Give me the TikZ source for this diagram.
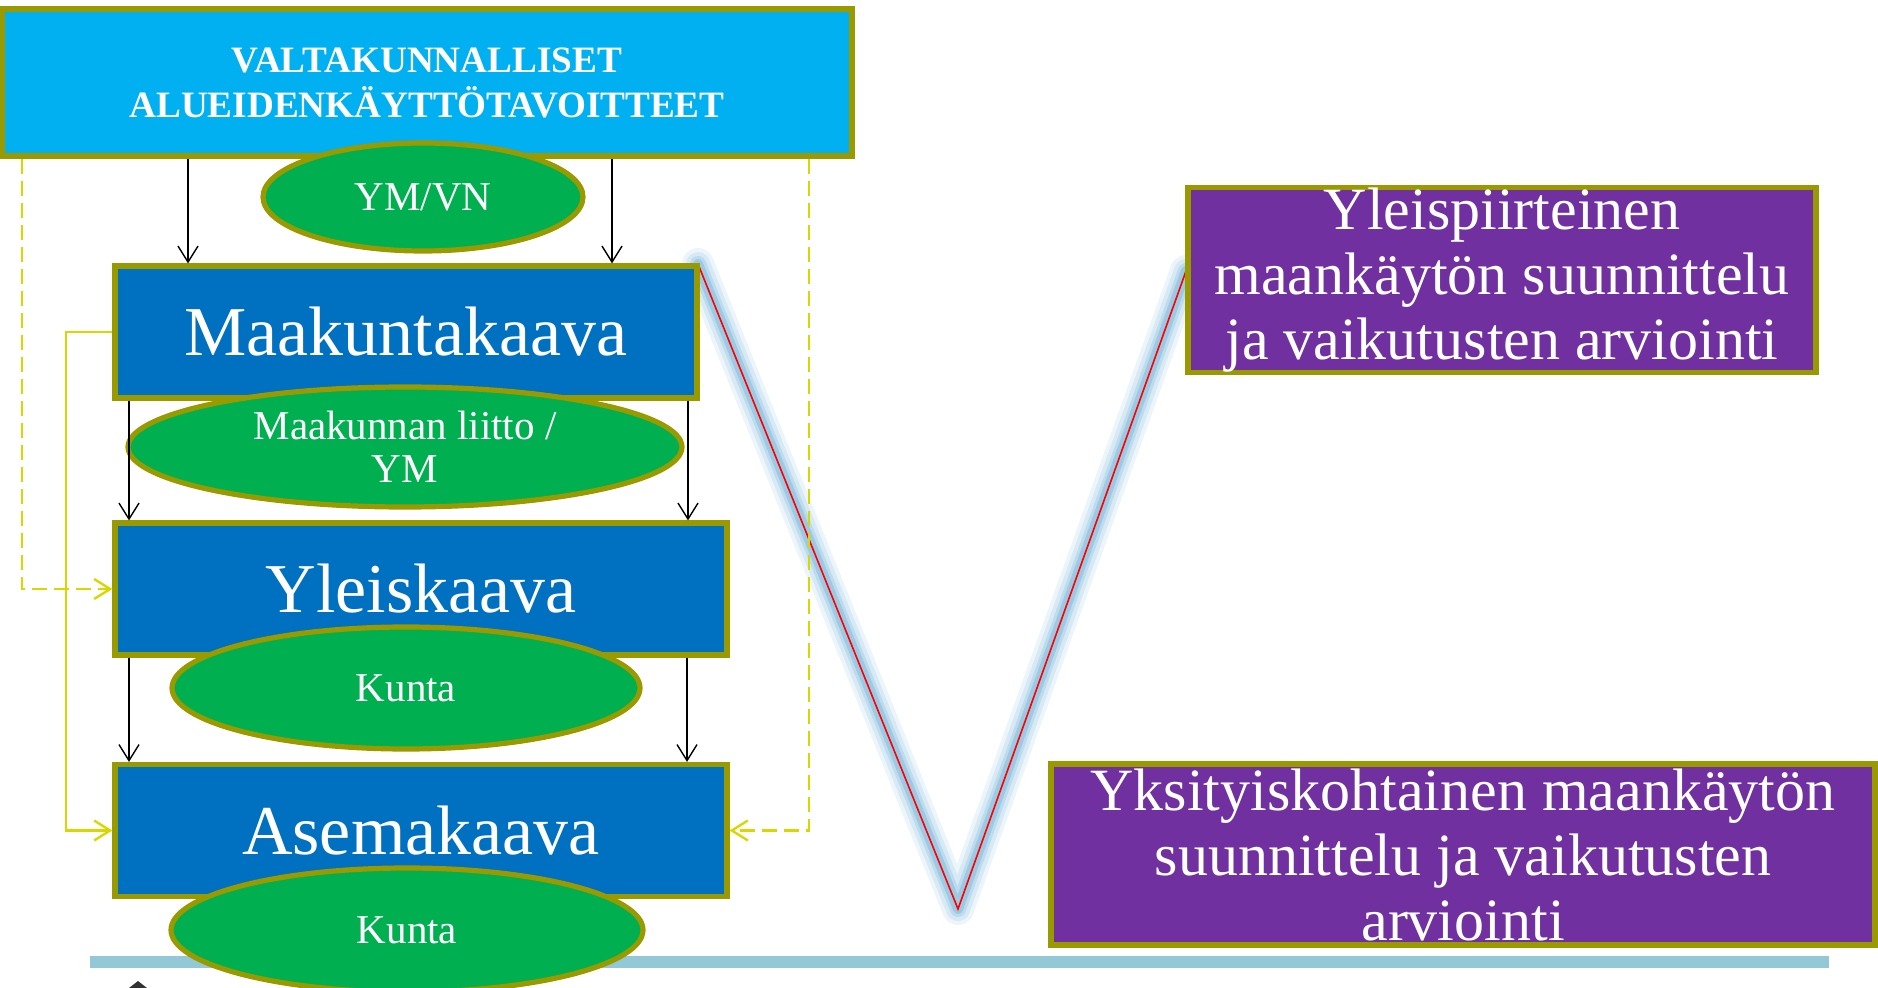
\documentclass[tikz,border=0pt]{standalone}
\usepackage{fontspec}
\setmainfont{Liberation Serif}
\usetikzlibrary{shapes.geometric, positioning, arrows.meta, calc}
\definecolor{olivebd}{RGB}{153,153,0}
\definecolor{skyfill}{RGB}{0,176,240}
\definecolor{kaavafill}{RGB}{0,112,192}
\definecolor{tahofill}{RGB}{0,176,80}
\definecolor{violetfill}{RGB}{112,48,160}
\definecolor{ohjaus}{RGB}{216,216,0}
\definecolor{glowblue}{RGB}{95,168,210}
\definecolor{pohja}{RGB}{146,200,216}

\begin{document}
\begin{tikzpicture}[x=0.5pt, y=-0.5pt,
  kaava/.style={draw=olivebd, line width=2.6pt, fill=kaavafill, text=white, inner sep=0pt, font=\fontsize{35}{40}\selectfont},
  taho/.style={ellipse, draw=olivebd, line width=2.6pt, fill=tahofill, text=white, inner sep=0pt, align=center, font=\fontsize{20.5}{21.5}\selectfont},
  suunn/.style={draw=olivebd, line width=2.6pt, fill=violetfill, text=white, inner sep=0pt, align=center, font=\fontsize{30}{32.5}\selectfont},
  dn/.style={line width=0.7pt, -{Straight Barb[length=8pt,width=10pt]}},
  ydash/.style={ohjaus, line width=1.2pt, dash pattern=on 7.5pt off 3.5pt, -{Straight Barb[length=8pt,width=10pt]}},
  ysolid/.style={ohjaus, line width=1.2pt, -{Straight Barb[length=8pt,width=10pt]}}]
\useasboundingbox (0,0) rectangle (1878,988);
\fill[pohja] (90,956) rectangle (1829,968);
\fill[black!80] (138,981) -- (147,988) -- (129,988) -- cycle;
\coordinate (valku) at (698,264);
\coordinate (vkarki) at (958,909);
\coordinate (vloppu) at (1186,271);
\foreach \w/\t in {16/12, 12/25, 8/42, 5/62}
  \draw[glowblue!\t, line width=\w pt, line join=round, line cap=round] (valku) -- (vkarki) -- (vloppu);
\draw[red, line width=0.8pt] (valku) -- (vkarki) -- (vloppu);

\node[draw=olivebd, line width=2.6pt, fill=skyfill, text=white, minimum width=425pt, minimum height=73.5pt, inner sep=0pt, align=center, font=\bfseries\fontsize{18.6}{22.5}\selectfont] (vat) at (427,82.5) {VALTAKUNNALLISET\\ALUEIDENKÄYTTÖTAVOITTEET};
\node[taho, minimum width=160pt, minimum height=54pt] (ymvn) at (423,197) {YM/VN};
\node[kaava, minimum width=291pt, minimum height=66pt] (maak) at (406,332) {Maakuntakaava};
\node[taho, minimum width=277pt, minimum height=60pt] (liitto) at (405,447) {Maakunnan liitto /\\YM};
\node[kaava, minimum width=306pt, minimum height=66pt] (yleis) at (421,589) {Yleiskaava};
\node[taho, minimum width=234pt, minimum height=61pt] (kunta1) at (406,688) {Kunta};
\node[kaava, minimum width=306pt, minimum height=66pt] (asema) at (421,830.5) {Asemakaava};
\node[taho, minimum width=236pt, minimum height=62pt] (kunta2) at (407,930) {Kunta};
\node[suunn, minimum width=314pt, minimum height=89pt] (ylp) at (1502,280) {Yleispiirteinen\\maankäytön suunnittelu\\ja vaikutusten arviointi};
\node[suunn, minimum width=412pt, minimum height=90.5pt] (yksk) at (1463,854.5) {Yksityiskohtainen maankäytön\\suunnittelu ja vaikutusten\\arviointi};

\draw[dn] (vat.south -| 188,0) -- (maak.north -| 188,0);
\draw[dn] (vat.south -| 612,0) -- (maak.north -| 612,0);
\draw[dn] (maak.south -| 129,0) -- (yleis.north -| 129,0);
\draw[dn] (maak.south -| 688,0) -- (yleis.north -| 688,0);
\draw[dn] (yleis.south -| 129,0) -- (asema.north -| 129,0);
\draw[dn] (yleis.south -| 687,0) -- (asema.north -| 687,0);

\draw[ydash] (vat.south -| 22,0) |- (yleis.west);
\draw[ysolid] (maak.west) -- (maak.west -| 66,0) |- (asema.west);
\draw[ydash] (vat.south -| 809,0) |- (asema.east);
\end{tikzpicture}
\end{document}
